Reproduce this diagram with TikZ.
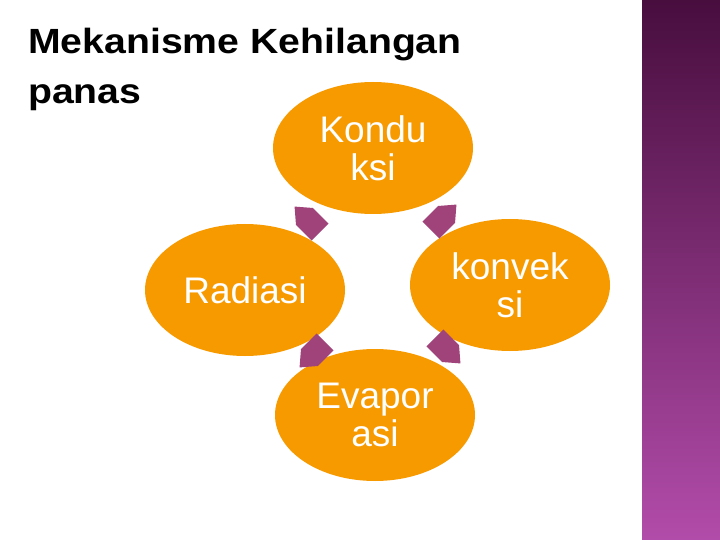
\documentclass[tikz,border=0pt]{standalone}
\usepackage{fontspec}
\setmainfont{Liberation Sans}
\begin{document}
\begin{tikzpicture}[x=1pt,y=-1pt,
 ell/.style={ellipse,fill=orange1,minimum width=200pt,minimum height=132pt,text=white,font=\fontsize{37}{38}\selectfont,align=center,inner sep=0pt},
 arr/.style={fill=plum1}]
\usetikzlibrary{shapes.geometric}
\definecolor{orange1}{HTML}{F79A00}
\definecolor{plum1}{HTML}{A0437A}
\useasboundingbox (0,0) rectangle (720,540);
\fill[white] (0,0) rectangle (720,540);
\shade[top color={rgb,255:red,72;green,14;blue,62},bottom color={rgb,255:red,178;green,76;blue,170}] (642,0) rectangle (720,540);
\node[anchor=north west,align=left,font=\fontsize{35}{50}\selectfont\bfseries,inner sep=0pt,xscale=1.12] (title) at (28,28) {Mekanisme Kehilangan\\panas};
\node[ell] (k) at (373,148) {Kondu\\ksi};
\node[ell] (v) at (510,285) {konvek\\si};
\node[ell] (r) at (245,290) {Radiasi};
\node[ell] (e) at (375,415) {Evapor\\asi};
\foreach \p/\a in {{(308,220)}/135,{(443,218)}/45,{(313,354)}/-135,{(447,350)}/-45}{
 \fill[arr,shift={\p},rotate=\a] (-17,-12) -- (5,-12) -- (19,0) -- (5,12) -- (-17,12) -- cycle;}
\end{tikzpicture}
\end{document}
